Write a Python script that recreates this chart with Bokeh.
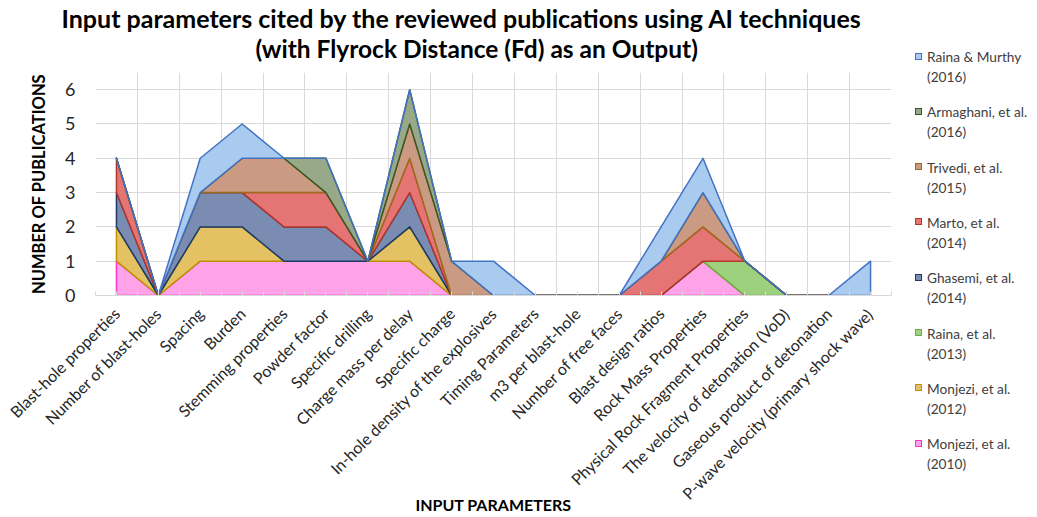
import numpy as np
from bokeh.plotting import figure
from bokeh.layouts import row
from bokeh.models import FixedTicker, Title, Range1d, Div
from bokeh.embed import file_html
from bokeh.resources import INLINE

categories = [
    "Blast-hole properties", "Number of blast-holes", "Spacing", "Burden",
    "Stemming properties", "Powder factor", "Specific drilling",
    "Charge mass per delay", "Specific charge",
    "In-hole density of the explosives", "Timing Parameters",
    "m3 per blast-hole", "Number of free faces", "Blast design ratios",
    "Rock Mass Properties", "Physical Rock Fragment Properties",
    "The velocity of detonation (VoD)", "Gaseous product of detonation",
    "P-wave velocity (primary shock wave)",
]

# stacked bottom -> top
series_names = [
    "Monjezi, et al.", "Monjezi, et al.", "Raina, et al.", "Ghasemi, et al.",
    "Marto, et al.", "Trivedi, et al.", "Armaghani, et al.", "Raina & Murthy",
]
series_years = ["(2010)", "(2012)", "(2013)", "(2014)", "(2014)", "(2015)",
                "(2016)", "(2016)"]
monjezi_2010 = [1, 0, 1, 1, 1, 1, 1, 1, 0, 0, 0, 0, 0, 0, 1, 0, 0, 0, 0]
monjezi_2012 = [1, 0, 1, 1, 0, 0, 0, 1, 0, 0, 0, 0, 0, 0, 0, 0, 0, 0, 0]
raina_2013 = [0, 0, 0, 0, 0, 0, 0, 0, 0, 0, 0, 0, 0, 0, 0, 1, 0, 0, 0]
ghasemi_2014 = [1, 0, 1, 1, 1, 1, 0, 1, 0, 0, 0, 0, 0, 0, 0, 0, 0, 0, 0]
marto_2014 = [1, 0, 0, 0, 1, 1, 0, 1, 0, 0, 0, 0, 0, 1, 1, 0, 0, 0, 0]
trivedi_2015 = [0, 0, 0, 1, 1, 0, 0, 1, 1, 0, 0, 0, 0, 0, 1, 0, 0, 0, 0]
armaghani_2016 = [0, 0, 0, 0, 0, 1, 0, 1, 0, 0, 0, 0, 0, 0, 0, 0, 0, 0, 0]
raina_murthy_2016 = [0, 0, 1, 1, 0, 0, 0, 0, 0, 1, 0, 0, 0, 1, 1, 0, 0, 0, 1]

series_values = [monjezi_2010, monjezi_2012, raina_2013, ghasemi_2014,
                 marto_2014, trivedi_2015, armaghani_2016, raina_murthy_2016]
fill_colors = ["#FFA3E8", "#E4C263", "#9DD17E", "#7B8CB2",
               "#E57474", "#CB9A82", "#98A989", "#A9CBEF"]
line_colors = ["#FF33CC", "#BF9000", "#70AD47", "#1F3864",
               "#B5352B", "#9E6A1E", "#385723", "#4472C4"]

FONT = "Lato"

p = figure(width=905, height=517, output_backend="svg", toolbar_location=None,
           x_range=Range1d(-0.5, len(categories) - 0.5), y_range=Range1d(0, 6.5),
           min_border_left=95, min_border_right=14, min_border_top=72,
           min_border_bottom=222, outline_line_color=None)
p.title.text = ""

x = np.arange(len(categories), dtype=float)
bottom = np.zeros(len(categories))
for vals, fc, lc in zip(series_values, fill_colors, line_colors):
    top = bottom + np.array(vals, dtype=float)
    xs = list(x) + list(x[::-1])
    ys = list(top) + list(bottom[::-1])
    p.patch(xs, ys, fill_color=fc, line_color=lc, line_width=1.5, line_join="round")
    bottom = top

# axes
p.xaxis.ticker = FixedTicker(ticks=list(range(len(categories))),
                             minor_ticks=[i - 0.5 for i in range(len(categories) + 1)])
p.xaxis.major_label_overrides = {i: c for i, c in enumerate(categories)}
p.xaxis.major_label_orientation = np.pi / 4
p.xaxis.major_label_text_font = FONT
p.xaxis.major_label_text_font_size = "16px"
p.xaxis.major_label_text_color = "#262626"
p.xaxis.major_label_standoff = 15
p.xaxis.axis_line_color = "#D9D9D9"
p.xaxis.major_tick_line_color = "#D9D9D9"
p.xaxis.minor_tick_line_color = "#D9D9D9"
p.xaxis.major_tick_in = 4
p.xaxis.major_tick_out = 0
p.xaxis.minor_tick_in = 4
p.xaxis.minor_tick_out = 0
p.xaxis.axis_label = "INPUT PARAMETERS"
p.xaxis.axis_label_text_font = FONT
p.xaxis.axis_label_text_font_style = "bold"
p.xaxis.axis_label_text_font_size = "16px"
p.xaxis.axis_label_text_color = "#000000"
p.xaxis.axis_label_standoff = -17

p.yaxis.ticker = FixedTicker(ticks=list(range(7)))
p.yaxis.axis_line_color = None
p.yaxis.major_tick_line_color = None
p.yaxis.minor_tick_line_color = None
p.yaxis.major_label_text_font = FONT
p.yaxis.major_label_text_font_size = "18px"
p.yaxis.major_label_text_color = "#262626"
p.yaxis.major_label_standoff = 14
p.yaxis.axis_label = "NUMBER OF PUBLICATIONS"
p.yaxis.axis_label_text_font = FONT
p.yaxis.axis_label_text_font_style = "bold"
p.yaxis.axis_label_text_font_size = "16.5px"
p.yaxis.axis_label_text_color = "#000000"
p.yaxis.axis_label_standoff = 13

p.xgrid.ticker = FixedTicker(ticks=[i - 0.5 for i in range(len(categories) + 1)])
p.xgrid.grid_line_color = "#D9D9D9"
p.ygrid.grid_line_color = "#D9D9D9"

# titles (added bottom line first, so it sits closest to the plot)
t2 = Title(text="(with Flyrock Distance (Fd) as an Output)", align="left",
           vertical_align="middle", text_font=FONT, text_font_size="24.5px",
           text_font_style="bold", text_color="#000000", standoff=18, offset=160)
t1 = Title(text="Input parameters cited by the reviewed publications using AI techniques",
           align="left", vertical_align="middle", text_font=FONT,
           text_font_size="25px", text_font_style="bold", text_color="#000000",
           standoff=-21, offset=-34)
p.add_layout(t2, "above")
p.add_layout(t1, "above")

# legend panel at the right (top entry = top series)
entries = []
first_line_y = 57.0
pitch = 55.3
for i, k in enumerate(range(len(series_names) - 1, -1, -1)):
    yc = first_line_y + i * pitch
    name = series_names[k].replace("&", "&amp;")
    entries.append(
        f'<div style="position:absolute;left:10px;top:{yc - 4.5:.1f}px;width:7px;height:7px;'
        f'background:{fill_colors[k]};border:1px solid {line_colors[k]};"></div>'
        f'<div style="position:absolute;left:22px;top:{yc - 10:.1f}px;line-height:20px;'
        f'white-space:nowrap;">{name}<br>{series_years[k]}</div>'
    )
html = ('<div style="position:relative;width:132px;height:517px;font-family:Lato;'
        'font-size:13.7px;color:#404040;">' + "".join(entries) + "</div>")
legend_div = Div(text=html, width=132, height=517, styles={"margin": "0", "padding": "0"})

layout = row(p, legend_div)
open("out.html", "w").write(file_html(layout, INLINE))
